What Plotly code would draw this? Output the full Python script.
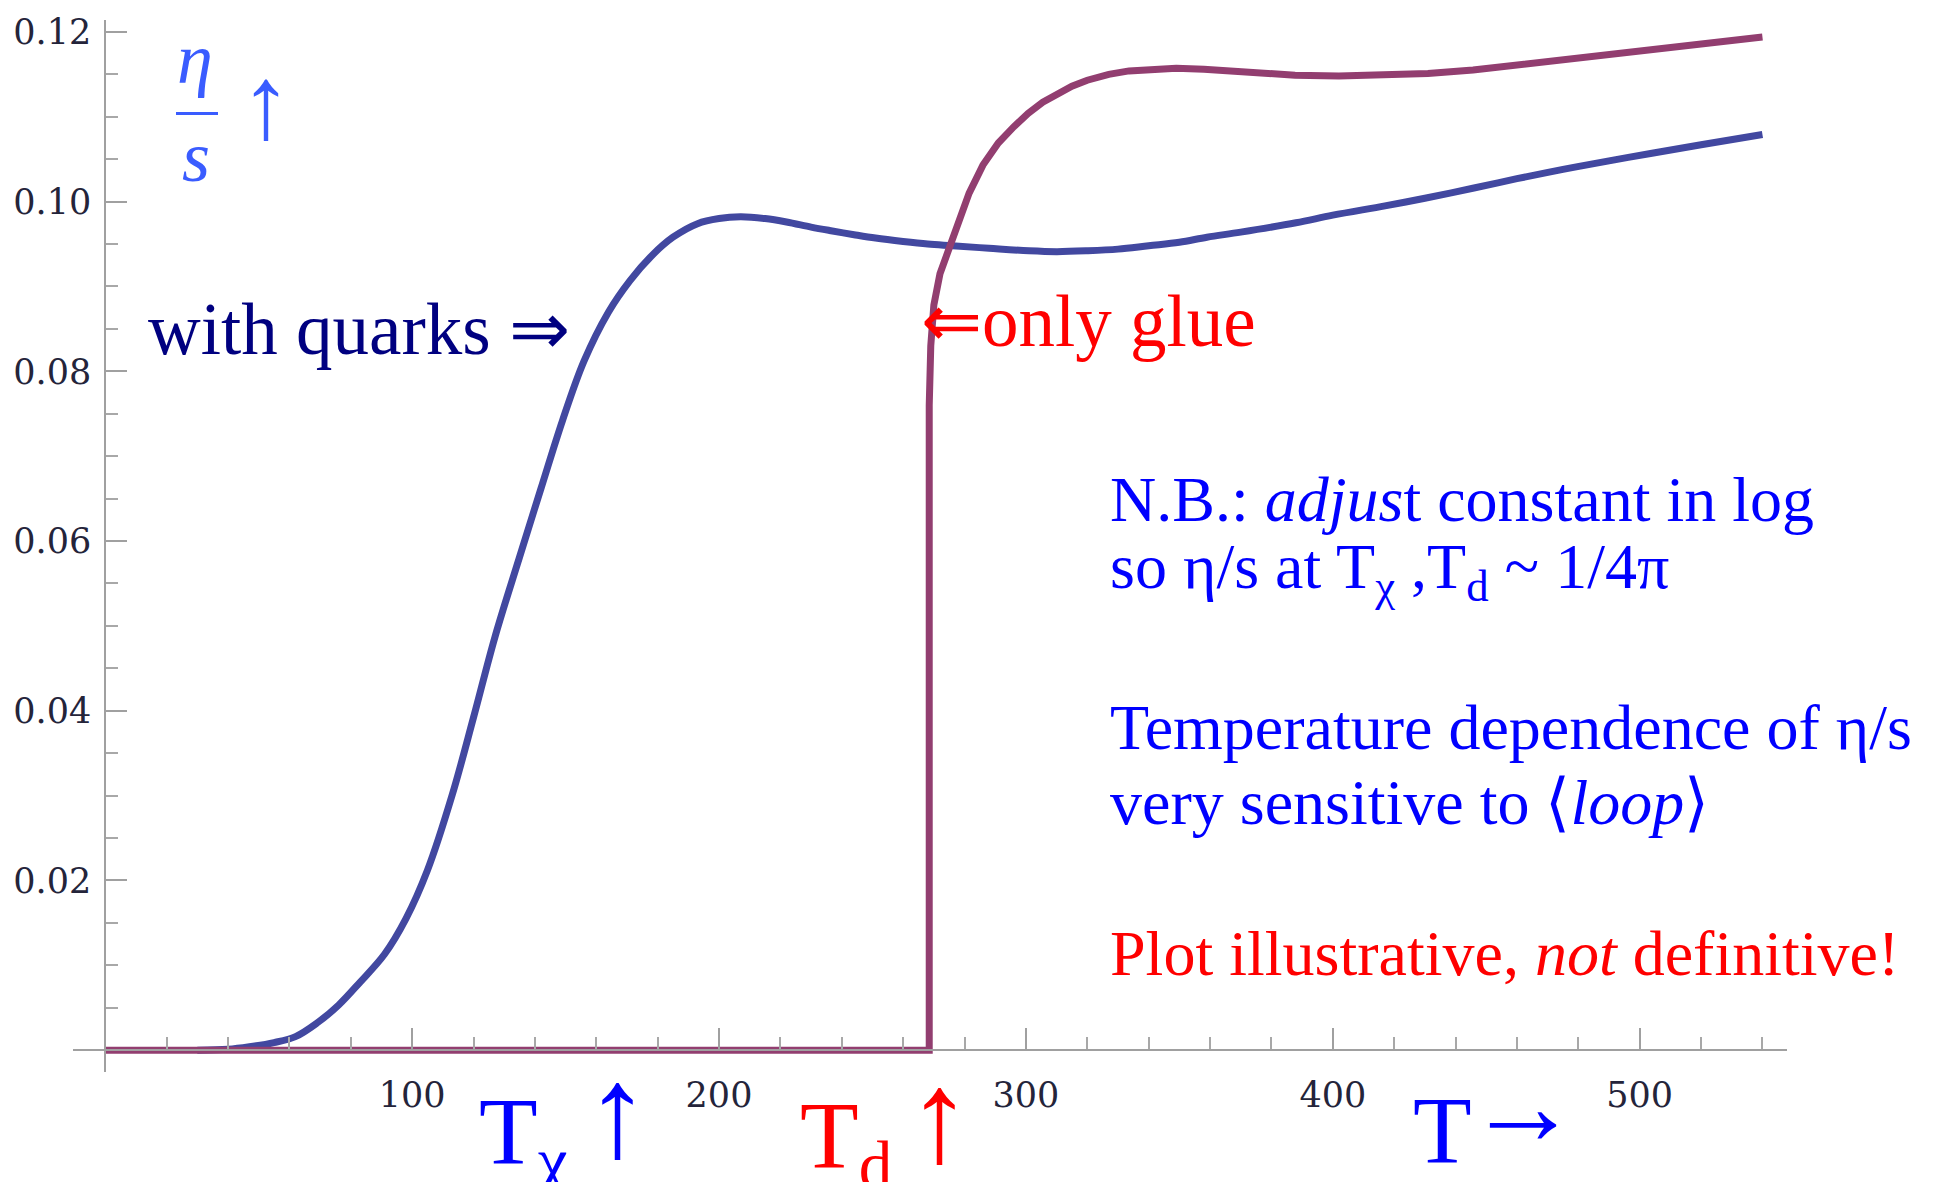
import plotly.graph_objects as go

# ---------------- data ----------------
T_quarks = [30, 40, 47, 55, 62, 69, 76, 83, 91, 98, 105, 113, 120, 127, 135, 142, 149, 156,
            164, 171, 178, 185, 193, 200, 207, 215, 222, 230, 236, 244, 251, 260, 268, 276,
            288, 301, 310, 320, 330, 340, 350, 359, 370, 388, 400, 417, 430, 446, 460, 475,
            490, 504, 520, 540]
eta_s_quarks = [0.0, 0.0001, 0.0004, 0.0009, 0.0016, 0.0032, 0.0053, 0.0080, 0.0113, 0.0155,
                0.0212, 0.0300, 0.0392, 0.0487, 0.0581, 0.0662, 0.0742, 0.0812, 0.0870, 0.0907,
                0.0936, 0.0958, 0.0974, 0.0980, 0.0982, 0.0980, 0.0976, 0.0970, 0.0966, 0.0961,
                0.0957, 0.0953, 0.0950, 0.0948, 0.0945, 0.0942, 0.0941, 0.0942, 0.0944, 0.0948,
                0.0952, 0.0958, 0.0964, 0.0975, 0.0984, 0.0995, 0.1004, 0.1016, 0.1027, 0.1038,
                0.1048, 0.1057, 0.1067, 0.1079]

T_glue = [0, 268.5, 268.5, 269, 270, 272, 275, 278, 281.5, 286, 291, 296, 300.7, 305.5, 310.4,
          315, 320, 327, 333.6, 341, 349, 358, 368.4, 378, 387.7, 402, 416.6, 431, 445.7, 460,
          474.7, 489, 503.7, 520, 540]
eta_s_glue = [0.0, 0.0, 0.076, 0.083, 0.0878, 0.0915, 0.0945, 0.0978, 0.1010, 0.1043, 0.1069,
              0.1088, 0.1104, 0.1117, 0.1127, 0.1136, 0.1143, 0.1150, 0.1154, 0.1156, 0.1157,
              0.1156, 0.1153, 0.1151, 0.1149, 0.1148, 0.1149, 0.1151, 0.1155, 0.1161, 0.1167,
              0.1172, 0.1178, 0.1185, 0.1194]

x_major = [100, 200, 300, 400, 500]
x_major_labels = ["100", "200", "300", "400", "500"]
x_minor = [20, 40, 60, 80, 120, 140, 160, 180, 220, 240, 260, 280, 320, 340, 360, 380,
           420, 440, 460, 480, 520, 540]
y_major = [0.02, 0.04, 0.06, 0.08, 0.10, 0.12]
y_major_labels = ["0.02", "0.04", "0.06", "0.08", "0.10", "0.12"]
y_minor = [0.005, 0.010, 0.015, 0.025, 0.030, 0.035, 0.045, 0.050, 0.055, 0.065, 0.070,
           0.075, 0.085, 0.090, 0.095, 0.105, 0.110, 0.115]

# ---------------- layout geometry ----------------
W, H = 1933, 1182
ML, MR, MT, MB = 73, 146, 13, 110
XR = [-10.5, 548]
YR = [-0.00257, 0.1214]


def px(xpix):
    return (xpix - ML) / (W - ML - MR)


def py(ypix):
    return (H - MB - ypix) / (H - MT - MB)


C_QUARK = "rgb(66,72,160)"
C_GLUE = "rgb(146,62,112)"
C_ETA = "#3a5cff"
BLUE = "#0000ff"
RED = "#ff0000"
NAVY = "#000080"
SERIF = "Liberation Serif, Times New Roman, serif"

fig = go.Figure()
fig.add_trace(go.Scatter(x=T_quarks, y=eta_s_quarks, mode="lines", name="with quarks",
                         line=dict(color=C_QUARK, width=7, shape="spline", smoothing=1.0)))
fig.add_trace(go.Scatter(x=T_glue, y=eta_s_glue, mode="lines", name="only glue",
                         line=dict(color=C_GLUE, width=7)))

tickfont = dict(family="DejaVu Serif", size=35, color="#24243a")

fig.update_layout(
    width=W, height=H,
    margin=dict(l=ML, r=MR, t=MT, b=MB, pad=0),
    paper_bgcolor="white", plot_bgcolor="white",
    showlegend=False,
    xaxis=dict(range=XR, anchor="free", position=(0 - YR[0]) / (YR[1] - YR[0]),
               showgrid=False, zeroline=False, showline=True, linecolor="#a0a0a0",
               linewidth=2, ticks="inside", ticklen=21, tickwidth=2, tickcolor="#a0a0a0",
               tickmode="array", tickvals=x_major, ticktext=x_major_labels,
               tickfont=tickfont, ticklabelstandoff=14,
               minor=dict(tickmode="array", tickvals=x_minor, ticks="inside", ticklen=12,
                          tickwidth=2, tickcolor="#a8a8a8")),
    yaxis=dict(range=YR, anchor="free", position=(0 - XR[0]) / (XR[1] - XR[0]),
               showgrid=False, zeroline=False, showline=True, linecolor="#a0a0a0",
               linewidth=2, ticks="inside", ticklen=21, tickwidth=2, tickcolor="#a0a0a0",
               tickmode="array", tickvals=y_major, ticktext=y_major_labels,
               tickfont=tickfont, ticklabelstandoff=6,
               minor=dict(tickmode="array", tickvals=y_minor, ticks="inside", ticklen=12,
                          tickwidth=2, tickcolor="#a8a8a8")),
)


def ann(text, xpix, ypix, size, color, xa="left", ya="middle", family=SERIF, weight=None):
    font = dict(family=family, size=size, color=color)
    if weight:
        font["weight"] = weight
    fig.add_annotation(text=text, x=px(xpix), y=py(ypix), xref="paper", yref="paper",
                       xanchor=xa, yanchor=ya, showarrow=False, font=font)


# eta / s label
ann("<i>η</i>", 195, 52, 72, C_ETA, "center")
fig.add_shape(type="line", xref="paper", yref="paper", x0=px(176), x1=px(218),
              y0=py(107), y1=py(107), line=dict(color=C_ETA, width=3))
ann("<i>s</i>", 196, 151, 72, C_ETA, "center")
ann("↑", 266, 96, 104, C_ETA, "center")

# curve labels
ann("with quarks ⇒", 146, 325, 73, NAVY)
ann("⇐only glue", 919, 317, 73, RED)

# notes on the right
ann("N.B.: <i>adjus</i>t constant in log", 1108, 496, 64, BLUE)
ann("so η/s at T<sub>χ</sub> ,T<sub>d</sub> ~ 1/4π", 1108, 568, 64, BLUE)
ann("Temperature dependence of η/s", 1108, 725, 64, BLUE)
ann("very sensitive to ⟨<i>loop</i>⟩", 1108, 801, 64, BLUE)
ann("Plot illustrative, <i>not</i> definitive!", 1108, 953, 64, RED)

# bottom markers
ann("T<sub>χ</sub>", 477, 1076, 96, BLUE, "left", "top")
ann("↑", 617, 1112, 130, BLUE, "center", weight="bold")
ann("T<sub>d</sub>", 798, 1080, 96, RED, "left", "top")
ann("↑", 940, 1117, 130, RED, "center", weight="bold")
ann("T", 1411, 1075, 96, BLUE, "left", "top")
ann("→", 1465, 1106, 112, BLUE, "left", weight="bold")

fig.write_html("out.html")
